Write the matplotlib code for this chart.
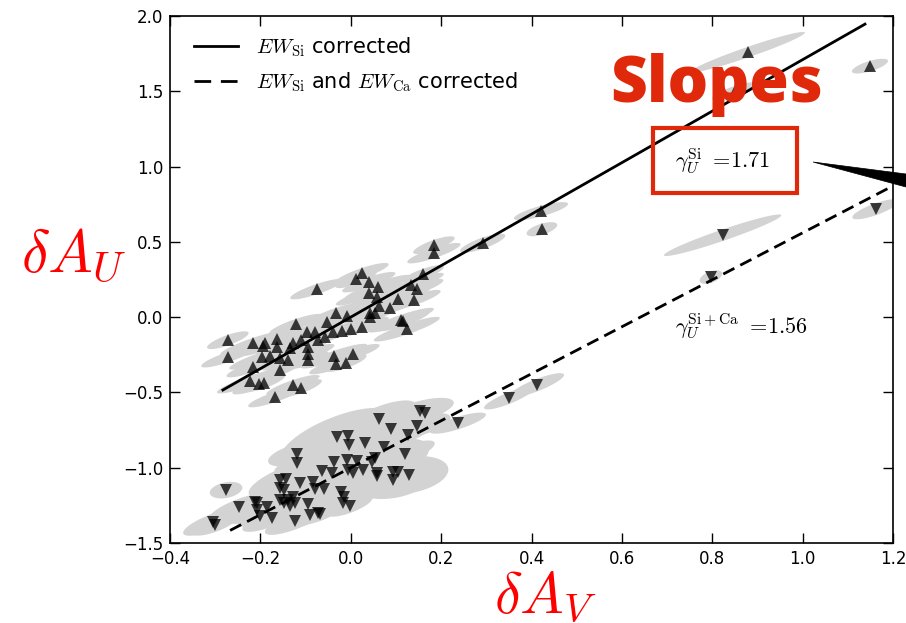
import numpy as np
import matplotlib
matplotlib.use("Agg")
import matplotlib.pyplot as plt
from matplotlib.lines import Line2D
from matplotlib.patches import Polygon, Rectangle

plt.rcParams["mathtext.fontset"] = "cm"
plt.rcParams["font.family"] = ["DejaVu Sans"]

# ---- U-band excess vs V-band excess, EW_Si corrected (upward triangles) ----
up_x = [0.184, 0.184, 0.025, 0.012, 0.040, 0.060, -0.075, 0.040, 0.058, 0.160,
        0.133, 0.146, 0.104, 0.140, 0.062, 0.087, 0.042, 0.054, 0.042, -0.033,
        -0.008, -0.053, 0.025, 0.000, -0.019, -0.039, -0.121, 0.111, 0.115, 0.124,
        -0.079, -0.097, -0.057, -0.073, -0.110, -0.128, -0.163, -0.190, -0.216, -0.272,
        -0.272, -0.194, -0.163, -0.135, -0.095, -0.095, -0.095, -0.037, 0.005, -0.033,
        -0.011, -0.196, -0.179, -0.157, -0.139, -0.216, -0.157, -0.223, -0.203, -0.192,
        -0.128, -0.110, -0.168, 0.421, 0.423, 0.292, 0.879, 1.149, 0.850]
up_y = [0.478, 0.425, 0.292, 0.252, 0.232, 0.199, 0.186, 0.159, 0.133, 0.286,
        0.212, 0.186, 0.120, 0.113, 0.073, 0.060, 0.027, 0.027, 0.000, 0.027,
        0.007, -0.033, -0.066, -0.080, -0.093, -0.100, -0.046, -0.020, -0.027, -0.080,
        -0.100, -0.100, -0.133, -0.153, -0.153, -0.173, -0.146, -0.173, -0.173, -0.153,
        -0.266, -0.193, -0.199, -0.206, -0.199, -0.246, -0.286, -0.259, -0.246, -0.312,
        -0.305, -0.266, -0.259, -0.272, -0.286, -0.332, -0.352, -0.425, -0.445, -0.438,
        -0.452, -0.471, -0.531, 0.704, 0.584, 0.491, 1.760, 1.667, 1.500]
up_sx = [0.046, 0.059, 0.059, 0.046, 0.059, 0.073, 0.059, 0.073, 0.059, 0.046,
         0.073, 0.059, 0.073, 0.059, 0.059, 0.073, 0.059, 0.046, 0.059, 0.059,
         0.073, 0.059, 0.059, 0.046, 0.059, 0.046, 0.059, 0.073, 0.059, 0.073,
         0.059, 0.046, 0.059, 0.046, 0.073, 0.059, 0.073, 0.059, 0.073, 0.046,
         0.059, 0.059, 0.046, 0.059, 0.046, 0.059, 0.046, 0.073, 0.059, 0.059,
         0.046, 0.073, 0.059, 0.046, 0.059, 0.059, 0.046, 0.073, 0.059, 0.046,
         0.059, 0.046, 0.059, 0.060, 0.034, 0.050, 0.126, 0.040, 0.050]
up_sy = [0.059, 0.068, 0.068, 0.059, 0.068, 0.082, 0.068, 0.082, 0.068, 0.059,
         0.082, 0.068, 0.082, 0.068, 0.068, 0.082, 0.068, 0.059, 0.068, 0.068,
         0.082, 0.068, 0.068, 0.059, 0.068, 0.059, 0.068, 0.082, 0.068, 0.082,
         0.068, 0.059, 0.068, 0.059, 0.082, 0.068, 0.082, 0.068, 0.082, 0.059,
         0.068, 0.068, 0.059, 0.068, 0.059, 0.068, 0.059, 0.082, 0.068, 0.068,
         0.059, 0.082, 0.068, 0.059, 0.068, 0.068, 0.059, 0.082, 0.068, 0.059,
         0.068, 0.059, 0.068, 0.060, 0.047, 0.063, 0.134, 0.049, 0.060]
up_rho = [0.80, 0.86, 0.86, 0.80, 0.86, 0.90, 0.86, 0.90, 0.86, 0.80,
          0.90, 0.86, 0.90, 0.86, 0.86, 0.90, 0.86, 0.80, 0.86, 0.86,
          0.90, 0.86, 0.86, 0.80, 0.86, 0.80, 0.86, 0.90, 0.86, 0.90,
          0.86, 0.80, 0.86, 0.80, 0.90, 0.86, 0.90, 0.86, 0.90, 0.80,
          0.86, 0.86, 0.80, 0.86, 0.80, 0.86, 0.80, 0.90, 0.86, 0.86,
          0.80, 0.90, 0.86, 0.80, 0.86, 0.86, 0.80, 0.90, 0.86, 0.80,
          0.86, 0.80, 0.86, 0.80, 0.60, 0.80, 0.964, 0.70, 0.80]

# ---- EW_Si and EW_Ca corrected (downward triangles) ----
lo_x = [0.153, 0.164, 0.062, 0.089, 0.146, 0.126, 0.237, -0.031, -0.006, -0.004,
        0.031, 0.073, 0.120, -0.119, -0.119, -0.037, -0.008, 0.014, 0.047, 0.054,
        -0.064, -0.042, -0.006, 0.005, 0.027, 0.058, 0.058, 0.093, 0.104, 0.093,
        0.129, -0.143, -0.112, -0.084, -0.157, -0.148, -0.079, -0.059, -0.022, -0.015,
        -0.157, -0.139, -0.128, -0.148, -0.124, -0.095, -0.002, -0.017, -0.090, -0.068,
        -0.124, -0.276, -0.247, -0.212, -0.208, -0.201, -0.174, -0.305, -0.300, -0.208,
        -0.185, -0.157, -0.135, -0.073, 0.350, 0.412, 0.823, 0.797, 1.162]
lo_y = [-0.624, -0.637, -0.677, -0.744, -0.724, -0.784, -0.704, -0.797, -0.790, -0.850,
        -0.837, -0.863, -0.910, -0.910, -0.969, -0.963, -0.950, -0.956, -0.963, -0.936,
        -1.023, -1.036, -1.016, -1.036, -1.016, -1.036, -1.056, -1.029, -1.029, -1.082,
        -1.049, -1.076, -1.102, -1.096, -1.135, -1.149, -1.142, -1.142, -1.162, -1.195,
        -1.215, -1.215, -1.195, -1.235, -1.235, -1.242, -1.255, -1.235, -1.315, -1.308,
        -1.355, -1.149, -1.262, -1.228, -1.282, -1.321, -1.335, -1.361, -1.381, -1.235,
        -1.262, -1.082, -1.255, -1.301, -0.538, -0.452, 0.544, 0.266, 0.717]
lo_sx = [0.075, 0.050, 0.083, 0.050, 0.075, 0.050, 0.062, 0.124, 0.050, 0.124,
         0.083, 0.066, 0.066, 0.064, 0.050, 0.083, 0.083, 0.050, 0.066, 0.050,
         0.083, 0.050, 0.066, 0.050, 0.1465, 0.050, 0.066, 0.050, 0.066, 0.087,
         0.087, 0.083, 0.083, 0.050, 0.066, 0.050, 0.083, 0.050, 0.066, 0.050,
         0.066, 0.050, 0.083, 0.050, 0.066, 0.083, 0.050, 0.066, 0.066, 0.050,
         0.066, 0.036, 0.066, 0.050, 0.066, 0.050, 0.066, 0.066, 0.050, 0.050,
         0.066, 0.050, 0.050, 0.050, 0.055, 0.060, 0.130, 0.025, 0.052]
lo_sy = [0.088, 0.070, 0.124, 0.070, 0.088, 0.070, 0.070, 0.194, 0.070, 0.194,
         0.124, 0.091, 0.091, 0.082, 0.070, 0.124, 0.124, 0.070, 0.091, 0.070,
         0.124, 0.070, 0.091, 0.070, 0.210, 0.070, 0.091, 0.070, 0.091, 0.126,
         0.126, 0.124, 0.124, 0.070, 0.091, 0.070, 0.124, 0.070, 0.091, 0.070,
         0.091, 0.070, 0.124, 0.070, 0.091, 0.124, 0.070, 0.091, 0.091, 0.070,
         0.091, 0.055, 0.091, 0.070, 0.091, 0.070, 0.091, 0.091, 0.070, 0.070,
         0.091, 0.070, 0.070, 0.070, 0.075, 0.080, 0.138, 0.045, 0.067]
lo_rho = [0.63, 0.75, 0.725, 0.75, 0.63, 0.75, 0.80, 0.68, 0.75, 0.68,
          0.725, 0.78, 0.78, 0.555, 0.75, 0.725, 0.725, 0.75, 0.78, 0.75,
          0.725, 0.75, 0.78, 0.75, 0.678, 0.75, 0.78, 0.75, 0.78, 0.29,
          0.29, 0.725, 0.725, 0.75, 0.78, 0.75, 0.725, 0.75, 0.78, 0.75,
          0.78, 0.75, 0.725, 0.75, 0.78, 0.725, 0.75, 0.78, 0.78, 0.75,
          0.78, 0.30, 0.78, 0.75, 0.78, 0.75, 0.78, 0.78, 0.75, 0.75,
          0.78, 0.75, 0.75, 0.75, 0.85, 0.85, 0.96, 0.50, 0.80]

# ---- linear fits: slope, intercept, x range ----
fit_si = dict(slope=1.71, intercept=0.0, x=[-0.283, 1.138])
fit_sica = dict(slope=1.56, intercept=-1.0, x=[-0.267, 1.25])

x_ticks = [-0.4, -0.2, 0.0, 0.2, 0.4, 0.6, 0.8, 1.0, 1.2]
y_ticks = [-1.5, -1.0, -0.5, 0.0, 0.5, 1.0, 1.5, 2.0]

RED = "#e0290a"
ELL = "#d3d3d3"

W, H = 906, 623
fig = plt.figure(figsize=(W / 100, H / 100), dpi=100)
ax = fig.add_axes([170 / W, 80 / H, 723 / W, 527 / H])


def error_ellipse(cx, cy, sx, sy, rho, n=80):
    cov = np.array([[sx * sx, rho * sx * sy], [rho * sx * sy, sy * sy]])
    L = np.linalg.cholesky(cov)
    t = np.linspace(0, 2 * np.pi, n)
    pts = L @ np.vstack([np.cos(t), np.sin(t)])
    return cx + pts[0], cy + pts[1]


for xs, ys, sxs, sys_, rhos in [(up_x, up_y, up_sx, up_sy, up_rho),
                                (lo_x, lo_y, lo_sx, lo_sy, lo_rho)]:
    for cx, cy, sx, sy, r in zip(xs, ys, sxs, sys_, rhos):
        ex, ey = error_ellipse(cx, cy, sx, sy, r)
        ax.fill(ex, ey, color=ELL, lw=0, zorder=1)

ax.plot(up_x, up_y, "^", color="k", alpha=0.75, ms=8, mew=0, zorder=3)
ax.plot(lo_x, lo_y, "v", color="k", alpha=0.75, ms=8, mew=0, zorder=3)

for fit, ls in [(fit_si, "-"), (fit_sica, (0, (4.5, 2.4)))]:
    xx = np.array(fit["x"])
    ax.plot(xx, fit["slope"] * xx + fit["intercept"], color="k", lw=2,
            linestyle=ls, zorder=4)

ax.set_xlim(-0.4, 1.2)
ax.set_ylim(-1.5, 2.0)
ax.set_xticks(x_ticks)
ax.set_yticks(y_ticks)
ax.set_xticklabels([f"{v:.1f}".replace("-", "\u2212") for v in x_ticks])
ax.set_yticklabels([f"{v:.1f}".replace("-", "\u2212") for v in y_ticks])
ax.tick_params(direction="in", length=7, width=1, top=True, right=True,
               labelsize=12, pad=5)
for s in ax.spines.values():
    s.set_linewidth(1.2)

handles = [Line2D([], [], color="k", lw=2, linestyle="-"),
           Line2D([], [], color="k", lw=2, linestyle=(0, (6, 3.5)))]
labels = [r"$EW_{\rm Si}$ corrected", r"$EW_{\rm Si}$ and $EW_{\rm Ca}$ corrected"]
ax.legend(handles, labels, loc="upper left", frameon=False, fontsize=15,
          handlelength=2.1, handletextpad=0.9, labelspacing=0.55,
          borderaxespad=0.4, bbox_to_anchor=(0.01, 0.995))

ax.set_xlabel(r"$\delta A_V$", color="red", fontsize=42)
ax.xaxis.set_label_coords(0.52, -0.10)
ax.xaxis.label.set_va("center")
ax.set_ylabel(r"$\delta A_U$", color="red", fontsize=43, rotation=0,
              ha="center", va="center")
ax.yaxis.set_label_coords(-0.133, 0.546)

ax.text(0.717, 1.04, r"$\gamma_U^{\rm Si}\ =\!1.71$", fontsize=16,
        ha="left", va="center", zorder=6)
ax.text(0.717, -0.06, r"$\gamma_U^{\rm Si+Ca}\ =\!1.56$", fontsize=16,
        ha="left", va="center", zorder=6)

# highlight box, heading and pointer
fig.patches.append(Rectangle((653 / W, 1 - 193 / H), 144 / W, 65 / H,
                             transform=fig.transFigure, fill=False,
                             edgecolor=RED, lw=3, zorder=10))
fig.text(717 / W, 1 - 85 / H, "Slopes", color=RED, fontsize=46,
         fontweight=800, family=["Open Sans", "DejaVu Sans"],
         ha="center", va="center", zorder=11)
fig.patches.append(Polygon([(813 / W, 1 - 162 / H), (W / W, 1 - 174 / H),
                            (W / W, 1 - 187 / H)], closed=True,
                           transform=fig.transFigure, facecolor="k",
                           edgecolor="k", lw=0.5, zorder=10))

fig.savefig("out.png", dpi=100, facecolor="white")
